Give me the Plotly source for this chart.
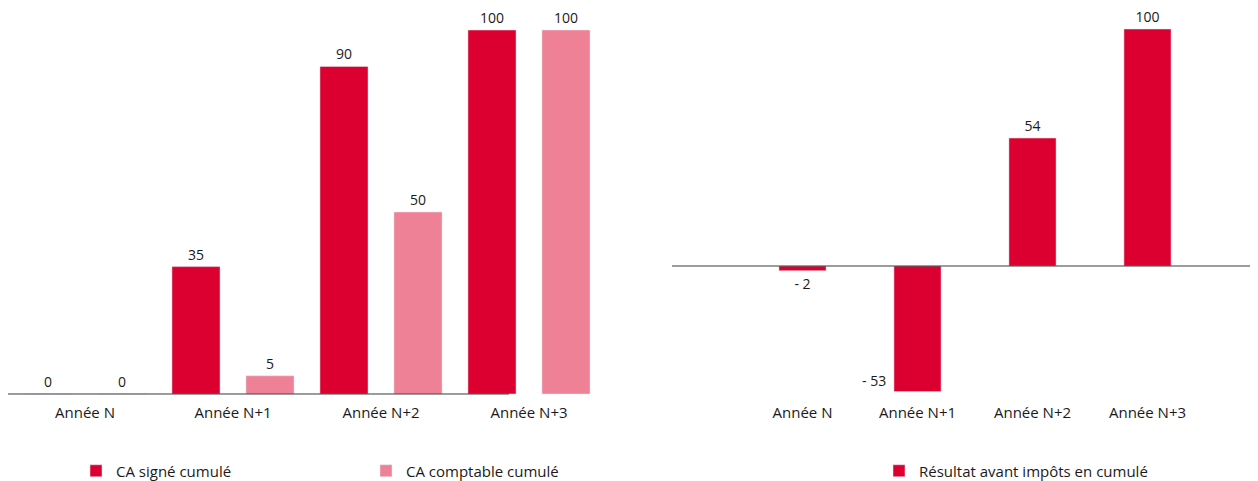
import plotly.graph_objects as go

categories = ["Année N", "Année N+1", "Année N+2", "Année N+3"]
ca_signe = [0, 35, 90, 100]
ca_comptable = [0, 5, 50, 100]
resultat = [-2, -53, 54, 100]

RED = "#DC0030"
PINK = "#EE8196"
TXT = "#1a1a1a"
FONT = "Open Sans"

# the page has an 8px body margin, so the figure is 8px smaller than the window
W, H = 1250, 473


def fmt(v):
    return f"- {abs(v)}" if v < 0 else str(v)


fig = go.Figure()
fig.add_trace(go.Bar(
    x=categories, y=ca_signe, name="CA signé cumulé", marker_color=RED,
    text=[fmt(v) for v in ca_signe], textposition="outside", cliponaxis=False,
    textfont=dict(size=14, color=TXT), xaxis="x", yaxis="y", legend="legend",
))
fig.add_trace(go.Bar(
    x=categories, y=ca_comptable, name="CA comptable cumulé", marker_color=PINK,
    text=[fmt(v) for v in ca_comptable], textposition="outside", cliponaxis=False,
    textfont=dict(size=14, color=TXT), xaxis="x", yaxis="y", legend="legend",
))

pos_text = ["outside" if (v >= 0 or abs(v) < 10) else "none" for v in resultat]
fig.add_trace(go.Bar(
    x=categories, y=resultat, name="Résultat avant impôts en cumulé", marker_color=RED,
    text=[fmt(v) for v in resultat], textposition=pos_text, cliponaxis=False,
    textfont=dict(size=14, color=TXT), width=0.41, offsetgroup="r",
    xaxis="x2", yaxis="y2", legend="legend2",
))

annotations = []
for c, v in zip(categories, resultat):
    if v < 0 and abs(v) >= 10:
        annotations.append(dict(
            x=c, y=v, xref="x2", yref="y2", text=fmt(v), showarrow=False,
            xanchor="right", yanchor="bottom", xshift=-30, yshift=0,
            font=dict(size=14, color=TXT, family=FONT),
        ))

shapes = [
    dict(type="line", xref="paper", yref="y", x0=0, x1=501 / W, y0=0, y1=0,
         line=dict(color="#3a3a3a", width=1)),
    dict(type="line", xref="paper", yref="y2", x0=664 / W, x1=1.0, y0=0, y1=0,
         line=dict(color="#3a3a3a", width=1)),
]

fig.update_layout(
    width=W, height=H,
    margin=dict(l=0, r=0, t=10, b=79),
    paper_bgcolor="white", plot_bgcolor="white",
    font=dict(family=FONT, size=15, color=TXT),
    barmode="group", bargap=0, bargroupgap=0.35,
    showlegend=True,
    xaxis=dict(domain=[3 / W, 595 / W], showgrid=False, zeroline=False, showline=False,
               ticks="", tickfont=dict(size=15, color=TXT), fixedrange=True),
    yaxis=dict(range=[-2.2, 103.3], visible=False, fixedrange=True),
    xaxis2=dict(domain=[737 / W, 1197 / W], anchor="y2", showgrid=False, zeroline=False,
                showline=False, ticks="", tickfont=dict(size=15, color=TXT), fixedrange=True),
    yaxis2=dict(range=[-57.38, 104.64], anchor="x2", visible=False, fixedrange=True),
    legend=dict(orientation="h", x=68 / W, xanchor="left", y=(H - 463) / H,
                yanchor="middle", yref="container", entrywidth=245,
                font=dict(size=15, color=TXT), itemclick=False, itemdoubleclick=False),
    legend2=dict(orientation="h", x=871 / W, xanchor="left", y=(H - 463) / H,
                 yanchor="middle", yref="container",
                 font=dict(size=15, color=TXT), itemclick=False, itemdoubleclick=False),
    shapes=shapes,
    annotations=annotations,
)

fig.write_html("out.html")
